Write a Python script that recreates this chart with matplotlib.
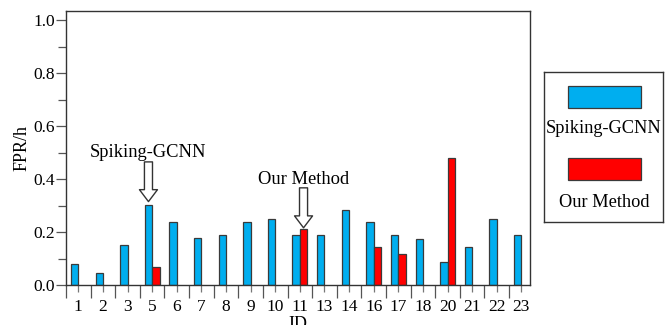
import numpy as np
import matplotlib
matplotlib.use("Agg")
import matplotlib.pyplot as plt
from matplotlib.patches import Rectangle

plt.rcParams['font.family'] = ['Liberation Serif', 'DejaVu Serif']

ids = ['1', '2', '3', '5', '6', '7', '8', '9', '10', '11', '13', '14',
       '16', '17', '18', '20', '21', '22', '23']
spiking_gcnn = [0.08, 0.047, 0.15, 0.303, 0.238, 0.176, 0.19, 0.237, 0.25, 0.19,
                0.19, 0.283, 0.237, 0.189, 0.175, 0.087, 0.143, 0.25, 0.19]
our_method = [0, 0, 0, 0.067, 0, 0, 0, 0, 0, 0.21,
              0, 0, 0.143, 0.116, 0, 0.478, 0, 0, 0]

blue = '#00AEEF'
red = '#FF0000'
edge = '#3a3a3a'

fig = plt.figure(figsize=(6.69, 3.25), dpi=100)
ax = fig.add_axes([66/669, 40/325, 464/669, 274/325])

x = np.arange(len(ids))
w = 0.3
ax.bar(x - w/2, spiking_gcnn, width=w, color=blue, edgecolor=edge, linewidth=0.9)
mask = np.array(our_method) > 0
ax.bar(x[mask] + w/2, np.array(our_method)[mask], width=w, color=red,
       edgecolor=edge, linewidth=0.9)

ax.set_xlim(-0.5, 18.35)
ax.set_ylim(0, 1.035)
ax.set_yticks(np.arange(0, 1.01, 0.2))
ax.set_yticks(np.arange(0.1, 1.0, 0.2), minor=True)
ax.set_yticklabels(['%.1f' % v for v in np.arange(0, 1.01, 0.2)])
ax.set_xticks(x)
ax.set_xticklabels(ids)
ax.set_xticks(np.arange(-0.5, 18.4, 1.0), minor=True)

ax.tick_params(axis='y', which='major', length=7, width=0.9, color='#555',
               labelsize=12.5, pad=1)
ax.tick_params(axis='y', which='minor', length=6, width=0.9, color='#555')
ax.tick_params(axis='x', which='major', length=5, width=0.9, color='#777',
               labelsize=12.5, pad=5)
ax.tick_params(axis='x', which='minor', length=9.5, width=0.9, color='#555')

for s in ax.spines.values():
    s.set_color('#333')
    s.set_linewidth(1.0)

ax.set_ylabel('FPR/h', fontsize=13, labelpad=2)
ax.set_xlabel('ID', fontsize=13, labelpad=1)

# annotation arrows
arrow_kw = dict(arrowstyle='simple,head_length=0.86,head_width=1.3,tail_width=0.58',
                fc='white', ec='#333', lw=1.0, shrinkA=0, shrinkB=0,
                mutation_scale=10)
x1 = x[3] - w/2
ax.annotate('', xy=(x1, spiking_gcnn[3] + 0.012), xytext=(x1, 0.465),
            arrowprops=arrow_kw)
ax.text(x1, 0.50, 'Spiking-GCNN', ha='center', va='center', fontsize=13.3)
x2 = x[9] + w/2
ax.annotate('', xy=(x2, our_method[9] + 0.006), xytext=(x2, 0.367),
            arrowprops=arrow_kw)
ax.text(x2, 0.40, 'Our Method', ha='center', va='center', fontsize=13.3)

# custom legend box
lax = fig.add_axes([544/669, (325-222)/325, 119/669, 150/325])
lax.set_xlim(544, 663)
lax.set_ylim(222, 72)
lax.set_xticks([])
lax.set_yticks([])
for s in lax.spines.values():
    s.set_color('#333')
    s.set_linewidth(1.0)
lax.add_patch(Rectangle((568, 86), 73, 22, facecolor=blue, edgecolor=edge, lw=0.9))
lax.text(604, 129, 'Spiking-GCNN', ha='center', va='center', fontsize=13.2)
lax.add_patch(Rectangle((568, 158), 73, 22, facecolor=red, edgecolor=edge, lw=0.9))
lax.text(604, 203, 'Our Method', ha='center', va='center', fontsize=13.2)

fig.savefig('out.png', dpi=100)
